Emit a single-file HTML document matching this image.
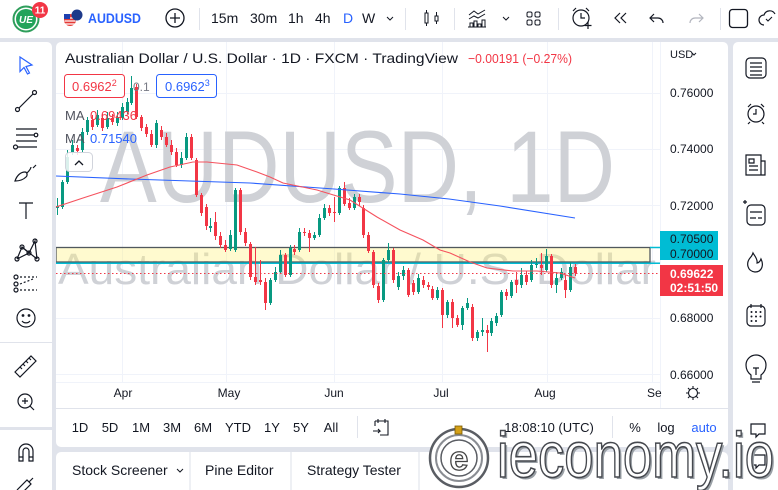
<!DOCTYPE html>
<html><head><meta charset="utf-8">
<style>
html,body{margin:0;padding:0;width:778px;height:490px;overflow:hidden;background:#e0e3eb;}
svg{display:block;font-family:"Liberation Sans",sans-serif;}
</style></head><body>
<svg width="778" height="490" viewBox="0 0 778 490" xmlns="http://www.w3.org/2000/svg">
<defs>
<clipPath id="plot"><rect x="56" y="42" width="604" height="340"/></clipPath>
</defs>
<rect width="778" height="490" fill="#e0e3eb"/>
<!-- panels -->
<rect x="0" y="0" width="778" height="38" fill="#fff"/>
<rect x="-6" y="42" width="58" height="460" rx="5" fill="#fff"/>
<rect x="56" y="42" width="672" height="405" rx="5" fill="#fff"/>
<rect x="733" y="42" width="52" height="460" rx="5" fill="#fff"/>
<rect x="56" y="452" width="672" height="45" rx="5" fill="#fff"/>
<rect x="0" y="342" width="52" height="1" fill="#e0e3eb"/>
<rect x="0" y="427" width="52" height="3" fill="#e0e3eb"/>

<!-- TOP TOOLBAR -->
<circle cx="26" cy="19" r="12.5" fill="#fff" stroke="#2e9e5b" stroke-width="2"/>
<circle cx="26" cy="19" r="10" fill="#22a35a"/>
<text x="26" y="23" font-size="10" font-weight="bold" font-style="italic" fill="#fff" text-anchor="middle">UE</text>
<circle cx="40" cy="10" r="8" fill="#f23645"/>
<text x="40" y="13.5" font-size="10" font-weight="bold" fill="#fff" text-anchor="middle">11</text>
<circle cx="70" cy="20" r="6" fill="#e53935"/>
<path d="M64.5 18h11M64.5 21h11M65 24h10" stroke="#fff" stroke-width="1.2"/>
<rect x="64" y="14" width="6" height="5" fill="#1e40af"/>
<circle cx="77" cy="15" r="5.5" fill="#1e3a8a"/>
<text x="88" y="23" font-size="14" font-weight="bold" fill="#2962ff" textLength="53" lengthAdjust="spacingAndGlyphs">AUDUSD</text>
<circle cx="175" cy="18" r="9" fill="none" stroke="#131722" stroke-width="1.3"/>
<path d="M175 13v10M170 18h10" stroke="#131722" stroke-width="1.3"/>
<rect x="199" y="8" width="1" height="22" fill="#e0e3eb"/>
<g font-size="14" fill="#131722">
<text x="211" y="23">15m</text>
<text x="250" y="23">30m</text>
<text x="288" y="23">1h</text>
<text x="315" y="23">4h</text>
<text x="343" y="23" fill="#2962ff">D</text>
<text x="362" y="23">W</text>
</g>
<path d="M387 17l3 3l3-3" fill="none" stroke="#131722" stroke-width="1"/>
<rect x="405" y="8" width="1" height="22" fill="#e0e3eb"/>
<path d="M426.5 10v16M436.5 12v12" stroke="#131722" stroke-width="1"/>
<rect x="425" y="13" width="3" height="10" fill="#fff" stroke="#131722" stroke-width="1"/>
<rect x="435" y="16" width="3" height="5" fill="#fff" stroke="#131722" stroke-width="1"/>
<rect x="454" y="8" width="1" height="22" fill="#e0e3eb"/>
<path d="M469 15l5-4l4 3l7-4M469 19l5-3l4 2l7-4" fill="none" stroke="#131722" stroke-width="1"/>
<path d="M470 27v-4h3v4M474 27v-6h3v6M478 27v-3h3v3M482 27v-7h3v7M468 27h18" fill="none" stroke="#131722" stroke-width="1"/>
<path d="M503 17l3 3l3-3" fill="none" stroke="#131722" stroke-width="1"/>
<rect x="527" y="12" width="5" height="5" rx="1.5" fill="none" stroke="#131722"/>
<rect x="535" y="12" width="5" height="5" rx="1.5" fill="none" stroke="#131722"/>
<rect x="527" y="20" width="5" height="5" rx="1.5" fill="none" stroke="#131722"/>
<rect x="535" y="20" width="5" height="5" rx="1.5" fill="none" stroke="#131722"/>
<rect x="558" y="8" width="1" height="22" fill="#e0e3eb"/>
<circle cx="581" cy="18" r="8" fill="none" stroke="#131722" stroke-width="1.2"/>
<path d="M581 13v5h4M573 11l3-3M589 11l-3-3M588 22v7M584.5 25.5h7" fill="none" stroke="#131722" stroke-width="1.2"/>
<path d="M620 13l-5 5l5 5M626 13l-5 5l5 5" fill="none" stroke="#131722" stroke-width="1.2"/>
<path d="M654 14l-4 4l4 4M650 18h8a5 5 0 0 1 5 5" fill="none" stroke="#131722" stroke-width="1.2"/>
<path d="M699 14l4 4l-4 4M703 18h-8a5 5 0 0 0-5 5" fill="none" stroke="#b2b5be" stroke-width="1.2"/>
<rect x="720" y="8" width="1" height="22" fill="#e0e3eb"/>
<rect x="729.5" y="9.5" width="18" height="18" rx="3" fill="none" stroke="#131722" stroke-width="1.3"/>
<path d="M764 25a5 5 0 0 1 0-10a6 6 0 0 1 11-1" fill="none" stroke="#131722" stroke-width="1.2"/>
<path d="M766 19l2 2l4-4" fill="none" stroke="#131722" stroke-width="1.1"/>

<!-- PLOT -->
<g clip-path="url(#plot)">
<g stroke="#f0f3fa" stroke-width="1">
<path d="M56 93.5H660M56 149.5H660M56 205.5H660M56 262.5H660M56 318.5H660M56 374.5H660"/>
<path d="M122.5 42V382M226.5 42V382M334.5 42V382M442.5 42V382M547.5 42V382M652.5 42V382"/>
</g>
<text x="100" y="202" font-size="102" fill="#cfd1d6" textLength="515" lengthAdjust="spacingAndGlyphs">AUDUSD, 1D</text>
<text x="58" y="284" font-size="44" fill="#cfd1d6" textLength="598" lengthAdjust="spacingAndGlyphs">Australian Dollar / U.S. Dollar</text>
<rect x="56" y="247.5" width="594" height="14.5" fill="#fff176" fill-opacity="0.35" stroke="#50585e" stroke-width="1.3"/>
<path d="M650 247.5H660M56 263.3H660" stroke="#00bcd4" stroke-width="1.5"/>

<!-- candles -->
<path fill="none" stroke="#089981" stroke-width="1" d="M57.5 198V215M62.5 180V209M67.5 150V184M72.5 140V155M82.5 128V152M87.5 117V135M97.5 110V127M107.5 112V129M117.5 112V126M122.5 103V120M127.5 98V114M131.5 76V105M156.5 120V148M181.5 152V168M186.5 133V160M210.5 218V232M230.5 230V251M235.5 188V252M270.5 278V305M275.5 267V282M280.5 250V274M290.5 245V277M299.5 228V252M314.5 232V240M319.5 214V237M324.5 204V220M339.5 186V215M354.5 194V210M383.5 258V302M388.5 243V262M398.5 272V290M403.5 266V280M418.5 274V294M437.5 287V300M447.5 300V318M462.5 306V330M467.5 298V310M477.5 330V341M482.5 318V336M491.5 318V336M496.5 313V326M501.5 290V317M511.5 280V298M521.5 268V288M531.5 260V282M536.5 258V268M546.5 249V272M556.5 272V293M561.5 268V280M570.5 262V292"/>
<path fill="#089981" d="M56 206h3V208h-3zM61 182h3V207h-3zM66 157h3V182h-3zM71 145h3V152h-3zM81 132h3V150h-3zM86 120h3V132h-3zM96 115h3V125h-3zM106 118h3V127h-3zM116 117h3V123h-3zM121 107h3V118h-3zM126 102h3V112h-3zM130 88h3V103h-3zM155 123h3V145h-3zM180 158h3V165h-3zM185 137h3V158h-3zM209 226h3V228h-3zM229 235h3V249h-3zM234 190h3V250h-3zM269 280h3V303h-3zM274 272h3V280h-3zM279 255h3V272h-3zM289 248h3V275h-3zM298 232h3V250h-3zM313 235h3V238h-3zM318 218h3V235h-3zM323 208h3V218h-3zM338 188h3V213h-3zM353 197h3V208h-3zM382 260h3V300h-3zM387 250h3V260h-3zM397 276h3V287h-3zM402 270h3V276h-3zM417 278h3V292h-3zM436 290h3V298h-3zM446 302h3V315h-3zM461 308h3V325h-3zM466 303h3V308h-3zM476 332h3V338h-3zM481 330h3V332h-3zM490 321h3V333h-3zM495 316h3V323h-3zM500 292h3V315h-3zM510 282h3V296h-3zM520 275h3V285h-3zM530 265h3V280h-3zM535 264h3V265h-3zM545 256h3V270h-3zM555 278h3V285h-3zM560 272h3V278h-3zM569 267h3V290h-3z"/>
<path fill="none" stroke="#f23645" stroke-width="1" d="M77.5 145V155M92.5 115V130M102.5 114V131M112.5 114V125M136.5 84V119M141.5 115V131M146.5 124V137M151.5 130V147M161.5 126V140M166.5 133V147M171.5 140V155M176.5 148V167M191.5 134V160M196.5 158V197M201.5 193V216M206.5 204V230M215.5 212V240M220.5 232V248M225.5 240V252M240.5 188V235M245.5 228V246M250.5 242V280M255.5 247V285M260.5 260V285M265.5 278V310M285.5 253V277M294.5 245V255M304.5 228V236M309.5 230V252M329.5 205V216M334.5 197V222M344.5 182V206M349.5 198V210M359.5 194V206M363.5 205V238M368.5 232V253M373.5 250V288M378.5 283V303M393.5 248V283M408.5 268V297M413.5 280V295M423.5 276V288M428.5 282V290M432.5 286V300M442.5 288V328M452.5 299V328M457.5 315V327M472.5 304V341M487.5 325V352M506.5 289V300M516.5 272V293M526.5 271V285M541.5 253V275M551.5 254V288M565.5 275V298M575.5 264V276"/>
<path fill="#f23645" d="M76 148h3V151h-3zM91 120h3V127h-3zM101 118h3V128h-3zM111 118h3V122h-3zM135 87h3V117h-3zM140 117h3V128h-3zM145 127h3V134h-3zM150 134h3V145h-3zM160 130h3V137h-3zM165 137h3V145h-3zM170 145h3V152h-3zM175 152h3V165h-3zM190 137h3V158h-3zM195 160h3V195h-3zM200 195h3V213h-3zM205 207h3V226h-3zM214 222h3V236h-3zM219 236h3V245h-3zM224 245h3V250h-3zM239 190h3V232h-3zM244 232h3V243h-3zM249 244h3V277h-3zM254 277h3V282h-3zM259 280h3V282h-3zM264 282h3V303h-3zM284 255h3V275h-3zM293 249h3V252h-3zM303 232h3V233h-3zM308 233h3V238h-3zM328 208h3V213h-3zM333 212h3V213h-3zM343 188h3V204h-3zM348 203h3V208h-3zM358 197h3V202h-3zM362 208h3V235h-3zM367 235h3V251h-3zM372 252h3V285h-3zM377 286h3V300h-3zM392 250h3V280h-3zM407 270h3V295h-3zM412 283h3V292h-3zM422 280h3V285h-3zM427 285h3V287h-3zM431 289h3V298h-3zM441 290h3V315h-3zM451 302h3V318h-3zM456 318h3V325h-3zM471 307h3V338h-3zM486 330h3V333h-3zM505 292h3V296h-3zM515 280h3V285h-3zM525 275h3V282h-3zM540 265h3V268h-3zM550 256h3V285h-3zM564 280h3V290h-3zM574 267h3V273h-3z"/>

<!-- MAs -->
<path fill="none" stroke="#2962ff" stroke-width="1.1" d="M56 176L130 179L250 183L334 189L400 194L449 199L500 206L575 218"/>
<path fill="none" stroke="#f5525e" stroke-width="1.1" d="M56 207L83 198L117 187L147 175L170 167L193 162L207 162L237 165L257 172L270 177L283 183L317 190L350 200L377 217L400 230L423 240L440 250L450 253L470 262L487 268L513 271L537 271L560 273L575 278"/>
<path d="M56 273.5H660" stroke="#f23645" stroke-width="1" stroke-dasharray="1.5 2.5"/>
</g>

<!-- axis borders -->
<rect x="660" y="42" width="1" height="366" fill="#f0f3fa"/>
<rect x="56" y="382" width="604" height="1" fill="#f0f3fa"/>
<rect x="56" y="408" width="672" height="1" fill="#e0e3eb"/>

<!-- legend -->
<text x="65" y="63" font-size="14" fill="#131722" textLength="393" lengthAdjust="spacingAndGlyphs">Australian Dollar / U.S. Dollar · 1D · FXCM · TradingView</text>
<text x="468" y="63" font-size="13" fill="#f23645" textLength="104" lengthAdjust="spacingAndGlyphs">−0.00191 (−0.27%)</text>
<rect x="64.5" y="74.5" width="60" height="23" rx="3" fill="#fff" stroke="#f23645"/>
<text x="72" y="91" font-size="13" fill="#f23645">0.6962<tspan font-size="9" dy="-5">2</tspan></text>
<text x="133" y="91" font-size="12" fill="#787b86">0.1</text>
<rect x="156.5" y="74.5" width="60" height="23" rx="3" fill="#fff" stroke="#2962ff"/>
<text x="165" y="91" font-size="13" fill="#2962ff">0.6962<tspan font-size="9" dy="-5">3</tspan></text>
<text x="65" y="120" font-size="13" fill="#50535e">MA</text>
<text x="90" y="120" font-size="13" fill="#f23645">0.69436</text>
<text x="65" y="143" font-size="13" fill="#50535e">MA</text>
<text x="90" y="143" font-size="13" fill="#2962ff">0.71540</text>
<rect x="65.5" y="152.5" width="27" height="19" rx="4" fill="#fff" fill-opacity="0.85" stroke="#d1d4dc"/>
<path d="M75 165l4-4l4 4" fill="none" stroke="#131722" stroke-width="1.3"/>

<!-- price axis -->
<text x="670" y="58" font-size="11" fill="#131722">USD</text>
<path d="M692 53l2 2l2-2" fill="none" stroke="#131722"/>
<g font-size="12" fill="#131722">
<text x="670" y="97">0.76000</text>
<text x="670" y="153">0.74000</text>
<text x="670" y="210">0.72000</text>
<text x="670" y="322">0.68000</text>
<text x="670" y="379">0.66000</text>
</g>
<rect x="660" y="231" width="58" height="29" fill="#00bcd4"/>
<text x="670" y="243" font-size="12" fill="#131722">0.70500</text>
<text x="670" y="258" font-size="12" fill="#131722">0.70000</text>
<rect x="660" y="265" width="63" height="31" fill="#f23645"/>
<text x="670" y="278" font-size="12" font-weight="bold" fill="#fff">0.69622</text>
<text x="670" y="292" font-size="12" font-weight="bold" fill="#fff">02:51:50</text>

<!-- time axis -->
<g font-size="12" fill="#131722" text-anchor="middle">
<text x="123" y="397">Apr</text>
<text x="229" y="397">May</text>
<text x="334" y="397">Jun</text>
<text x="441" y="397">Jul</text>
<text x="545" y="397">Aug</text>
</g>
<text x="647" y="397" font-size="12" fill="#131722">Se</text>
<circle cx="693" cy="393" r="4.5" fill="none" stroke="#131722" stroke-width="1.1"/>
<path d="M693 386v2M693 398v2M686 393h2M698 393h2M688 388l1.5 1.5M696.5 396.5l1.5 1.5M698 388l-1.5 1.5M689.5 396.5l-1.5 1.5" stroke="#131722" stroke-width="1.1"/>

<!-- bottom toolbar -->
<g font-size="13" fill="#131722" text-anchor="middle">
<text x="80" y="432">1D</text>
<text x="110" y="432">5D</text>
<text x="141" y="432">1M</text>
<text x="172" y="432">3M</text>
<text x="203" y="432">6M</text>
<text x="238" y="432">YTD</text>
<text x="272" y="432">1Y</text>
<text x="301" y="432">5Y</text>
<text x="331" y="432">All</text>
<text x="549" y="432">18:08:10 (UTC)</text>
<text x="635" y="432">%</text>
<text x="666" y="432">log</text>
<text x="704" y="432" fill="#2962ff">auto</text>
</g>
<rect x="357" y="416" width="1" height="22" fill="#e0e3eb"/>
<rect x="612" y="416" width="1" height="22" fill="#e0e3eb"/>
<path d="M375 421h13v14h-8M375 421v5M378 419v4M385 419v4M373 431h7l-2-2M380 431l-2 2" fill="none" stroke="#131722" stroke-width="1.1"/>

<!-- bottom tabs -->
<g font-size="14" fill="#131722">
<text x="72" y="475">Stock Screener</text>
<text x="205" y="475">Pine Editor</text>
<text x="307" y="475">Strategy Tester</text>
</g>
<path d="M177 469l3 3l3-3" fill="none" stroke="#131722"/>
<rect x="189" y="452" width="2" height="38" fill="#eef0f4"/>
<rect x="290" y="452" width="2" height="38" fill="#eef0f4"/>
<rect x="418" y="452" width="2" height="38" fill="#eef0f4"/>

<!-- left toolbar icons -->
<g fill="none" stroke="#131722" stroke-width="1.2">
<path d="M20 57l12 8l-6 1.5l3.5 6.5l-2 1l-3.5-6.5l-4 4z" stroke="#2962ff"/>
<path d="M19 108l14-14"/><circle cx="17.5" cy="109.5" r="2"/><circle cx="34.5" cy="92.5" r="2"/>
<path d="M16 129h21M16 135h18M16 141h21M18 147h19"/><circle cx="36" cy="135" r="1.8"/><circle cx="15.5" cy="147" r="2"/>
<path d="M15 181c2-6 6-9 10-9c2 0 3 3 1 5c-3 3-7 4-11 4zM27 173c2-2 4-4 4-6M33 168l3-3"/>
<path d="M19 203h14M26 203v16"/>
<path d="M17 259l5-12l7 6l6-12l2 18M17 259l12-6M22 247l15 12"/><circle cx="17" cy="259" r="2"/><circle cx="22" cy="247" r="2"/><circle cx="29" cy="253" r="2"/><circle cx="35" cy="241" r="2"/><circle cx="37" cy="259" r="2"/>
<path d="M20 277h17M20 290h17M20 284l13-5" stroke-dasharray="2 2"/><circle cx="16" cy="277" r="2"/><circle cx="16" cy="284" r="2"/><circle cx="16" cy="290" r="2"/>
<circle cx="26" cy="318" r="9"/><path d="M22 321c2 2.5 6 2.5 8 0"/><circle cx="23" cy="315.5" r="0.8" fill="#131722"/><circle cx="29" cy="315.5" r="0.8" fill="#131722"/>
<path d="M15 372l16-16l5 5l-16 16zM20 367l2 2M23 364l2 2M26 361l2 2M29 358l2 2"/>
<circle cx="25" cy="401" r="7"/><path d="M25 398v6M22 401h6M30 406l4 4"/>
<path d="M19 461v-10a7 7 0 0 1 14 0v10h-4v-10a3 3 0 0 0-6 0v10zM19 457h4M29 457h4"/>
<path d="M17 490l10-10l4 4l-10 10M29 482l4-4"/>
</g>

<!-- right sidebar icons -->
<g fill="none" stroke="#131722" stroke-width="1.2">
<rect x="746" y="58" width="20" height="20" rx="4"/><path d="M750 63h12M750 67h12M750 71h12M750 75h12"/>
<circle cx="756" cy="114" r="8"/><path d="M756 109v5h-3M748 107l3-3M764 107l-3-3M750 122l-2 2M762 122l2 2"/>
<path d="M746 155h15v20h-15zM761 161h4v14h-4M749 159h5v4h-5zM749 166h9M749 170h9"/>
<rect x="747" y="205" width="18" height="20" rx="4"/><path d="M750 212h12M750 218h6M758 218h4M743 202h4M745 200v4"/>
<path d="M750 258c-4 5-3 13 5 14c7 0 9-7 6-13c-1 3-3 4-4 4c1-4-3-8-4-10c-1 3-2 4-3 5z"/>
<rect x="747" y="306" width="18" height="20" rx="4"/><path d="M751 304v4M761 304v4"/>
<g fill="#131722" stroke="none"><circle cx="751.5" cy="312" r="1"/><circle cx="756" cy="312" r="1"/><circle cx="760.5" cy="312" r="1"/><circle cx="751.5" cy="316.5" r="1"/><circle cx="756" cy="316.5" r="1"/><circle cx="760.5" cy="316.5" r="1"/><circle cx="751.5" cy="321" r="1"/><circle cx="756" cy="321" r="1"/></g>
<path d="M751 375c-4-3-5-7-5-10a10 10 0 0 1 20 0c0 3-1 7-5 10v4h-10zM751 379h10M752 382h8M753 368h6M756 368v7"/>
<path d="M751 424h14v10h-6l-3 3v-3h-5z"/>
<path d="M751 455h14v10h-6l-3 3v-3h-5z"/>
</g>

<!-- ieconomy watermark -->
<g>
<circle cx="459" cy="458" r="29" fill="#fff" stroke="#5a5d63" stroke-width="2.5"/>
<circle cx="459" cy="458" r="23" fill="#fff" stroke="#8a8d93" stroke-width="2"/>
<circle cx="459" cy="458" r="18" fill="none" stroke="#5a5d63" stroke-width="1.5"/>
<text x="459" y="470" font-size="34" font-weight="bold" fill="#fff" stroke="#444" stroke-width="1.3" text-anchor="middle">e</text>
<rect x="455" y="426" width="7" height="8" fill="#d4a017" stroke="#7a5a00" stroke-width="0.8"/>
<text x="499" y="479" font-size="64" fill="#9aa0a6" textLength="277" lengthAdjust="spacingAndGlyphs">ieconomy.io</text>
<text x="497" y="477" font-size="64" fill="#fff" stroke="#45484e" stroke-width="1.6" textLength="277" lengthAdjust="spacingAndGlyphs">ieconomy.io</text>
</g>
</svg>
</body></html>
